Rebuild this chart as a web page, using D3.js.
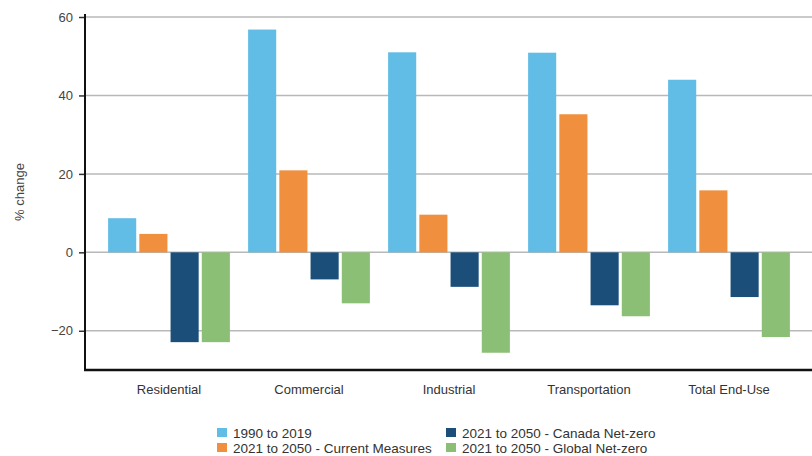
<!DOCTYPE html>
<html>
<head>
<meta charset="utf-8">
<script src="https://cdn.jsdelivr.net/npm/d3@7"></script>
<style>
  html, body { margin: 0; padding: 0; background: #fff; }
  svg { display: block; font-family: "Liberation Sans", Arial, sans-serif; }
</style>
</head>
<body>
<svg id="chart" width="812" height="456"></svg>
<script>
const categories = ["Residential", "Commercial", "Industrial", "Transportation", "Total End-Use"];
const seriesNames = ["1990 to 2019", "2021 to 2050 - Current Measures", "2021 to 2050 - Canada Net-zero", "2021 to 2050 - Global Net-zero"];
const s1990to2019 = [8.7, 56.8, 51.0, 50.9, 44.0];
const sCurrentMeasures = [4.7, 20.9, 9.6, 35.2, 15.8];
const sCanadaNetZero = [-22.9, -6.9, -8.8, -13.5, -11.4];
const sGlobalNetZero = [-22.9, -13.0, -25.6, -16.3, -21.6];
const yTicks = [-20, 0, 20, 40, 60];
const colors = ["#62bde6", "#f0903e", "#1b4f7a", "#8cbf76"];

const seriesValues = [s1990to2019, sCurrentMeasures, sCanadaNetZero, sGlobalNetZero];

const svg = d3.select("#chart");
const y = d3.scaleLinear().domain([-30, 60]).range([370, 17]);
const x0 = d3.scaleBand().domain(categories).range([99, 799]).paddingInner(0.13).paddingOuter(0.065);
const x1 = d3.scaleBand().domain(seriesNames).range([0, x0.bandwidth()]).paddingInner(0.1);

// gridlines
svg.append("g").selectAll("line").data(yTicks).join("line")
  .attr("x1", 85).attr("x2", 812)
  .attr("y1", d => y(d)).attr("y2", d => y(d))
  .attr("stroke", "#b8b8b8").attr("stroke-width", 1.5);

// bars
const g = svg.append("g");
categories.forEach((c, ci) => {
  seriesNames.forEach((s, si) => {
    const v = seriesValues[si][ci];
    g.append("rect")
      .attr("x", x0(c) + x1(s))
      .attr("width", x1.bandwidth())
      .attr("y", y(Math.max(0, v)))
      .attr("height", Math.abs(y(v) - y(0)))
      .attr("fill", colors[si]);
  });
});

// y axis
const yAxis = d3.axisLeft(y).tickValues(yTicks).tickSize(6).tickPadding(6);
const ya = svg.append("g").attr("transform", "translate(85,0)").call(yAxis);
ya.select(".domain").remove();
ya.selectAll(".tick line").attr("stroke", "#333").attr("stroke-width", 1.5);
ya.selectAll(".tick text").attr("fill", "#444").style("font-size", "13px").style("font-family", "Liberation Sans, Arial, sans-serif");
svg.append("line").attr("x1", 85).attr("x2", 85).attr("y1", 14).attr("y2", 371)
  .attr("stroke", "#111").attr("stroke-width", 2);

// x axis
svg.append("line").attr("x1", 84).attr("x2", 812).attr("y1", 370).attr("y2", 370)
  .attr("stroke", "#111").attr("stroke-width", 2.5);
const xAxis = d3.axisBottom(x0).tickSize(0).tickPadding(15);
const xa = svg.append("g").attr("transform", "translate(0,370)").call(xAxis);
xa.select(".domain").remove();
xa.selectAll(".tick text").attr("fill", "#333").style("font-size", "13px").style("font-family", "Liberation Sans, Arial, sans-serif");

// y label
svg.append("text").attr("transform", "translate(24,192) rotate(-90)")
  .attr("text-anchor", "middle").attr("fill", "#444").style("font-size", "13px")
  .text("% change");

// legend
const legendPos = [[217, 428], [217, 443], [446, 428], [446, 443]];
const lg = svg.append("g");
seriesNames.forEach((s, i) => {
  const [lx, ly] = legendPos[i];
  lg.append("rect").attr("x", lx).attr("y", ly).attr("width", 10).attr("height", 9).attr("fill", colors[i]);
  lg.append("text").attr("x", lx + 16).attr("y", ly + 10).attr("fill", "#333")
    .style("font-size", "13.5px").text(s);
});
</script>
</body>
</html>
